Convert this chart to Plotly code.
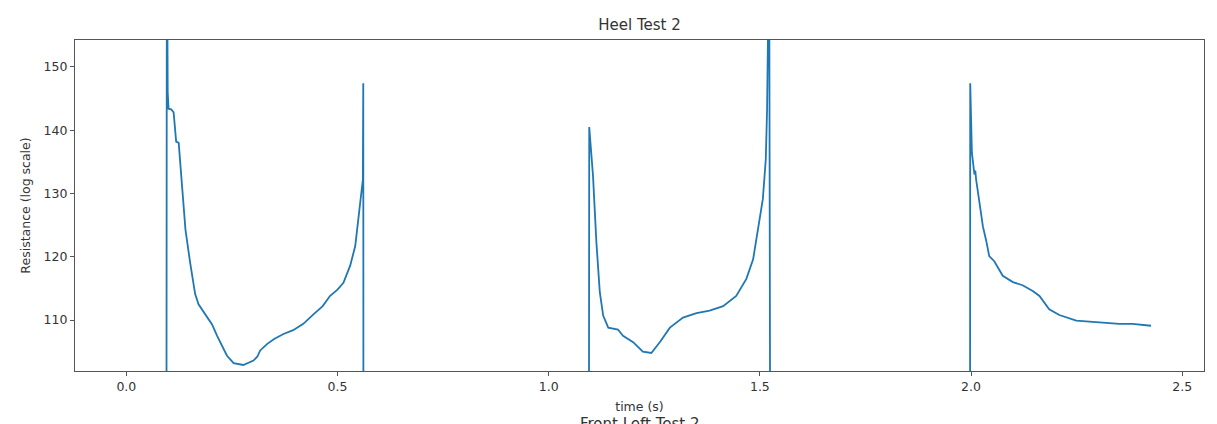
import plotly.graph_objects as go

# time (s) and resistance values
time_s = [
    0.000, 0.094, 0.096, 0.098, 0.100, 0.106, 0.112, 0.118, 0.124,
    0.132, 0.140, 0.151, 0.163, 0.171, 0.180, 0.191, 0.203, 0.215,
    0.238, 0.254, 0.277, 0.301, 0.310, 0.317, 0.333, 0.350, 0.372,
    0.395, 0.419, 0.443, 0.465, 0.482, 0.500, 0.514, 0.530, 0.542,
    0.553, 0.560, 0.561, 0.562,
    1.094, 1.096, 1.105, 1.113, 1.121, 1.129, 1.141, 1.164, 1.176,
    1.200, 1.223, 1.243, 1.263, 1.287, 1.318, 1.350, 1.381, 1.413,
    1.444, 1.468, 1.484, 1.496, 1.507, 1.514, 1.517, 1.522, 1.527,
    1.997, 1.998, 2.002, 2.006, 2.008, 2.010, 2.012, 2.020, 2.028,
    2.036, 2.043, 2.055, 2.075, 2.099, 2.122, 2.146, 2.162, 2.185,
    2.209, 2.249, 2.304, 2.351, 2.382, 2.426,
]
resistance = [
    0.0, 0.0, 175.0, 146.0, 143.4, 143.3, 142.8, 138.2, 138.0,
    131.2, 124.3, 119.1, 114.1, 112.5, 111.6, 110.7, 109.3, 107.5,
    104.4, 103.2, 102.9, 103.6, 104.2, 105.2, 106.2, 107.0, 107.8,
    108.4, 109.4, 110.9, 112.2, 113.8, 114.8, 115.9, 118.6, 121.7,
    128.0, 132.2, 147.4, 0.0,
    0.0, 140.5, 132.7, 122.2, 114.4, 110.7, 108.8, 108.5, 107.5,
    106.5, 105.0, 104.8, 106.5, 108.8, 110.4, 111.1, 111.5, 112.2,
    113.8, 116.5, 119.6, 124.8, 129.1, 135.4, 143.2, 170.0, 0.0,
    0.0, 147.4, 136.4, 134.5, 133.0, 133.6, 132.2, 128.5, 124.8,
    122.5, 120.1, 119.3, 117.0, 116.0, 115.5, 114.6, 113.8, 111.7,
    110.8, 109.9, 109.6, 109.4, 109.4, 109.1,
]

x_ticks = [0.0, 0.5, 1.0, 1.5, 2.0, 2.5]
x_tick_labels = ["0.0", "0.5", "1.0", "1.5", "2.0", "2.5"]
y_ticks = [110, 120, 130, 140, 150]

title_text = "Heel Test 2"
next_title_text = "Front Left Test 2"

FONT = "DejaVu Sans"
TXT = "#333333"
SPINE = "#555555"

fig = go.Figure()
fig.add_trace(go.Scatter(
    x=time_s, y=resistance, mode="lines",
    line=dict(color="#1f77b4", width=1.8),
    showlegend=False, hoverinfo="x+y",
))

fig.update_layout(
    width=1217, height=424,
    margin=dict(l=75, r=13, t=40, b=51),
    paper_bgcolor="white", plot_bgcolor="white",
    font=dict(family=FONT, size=12.5, color=TXT),
    title=dict(text=title_text, x=0.5, xref="paper", xanchor="center",
               y=1, yref="container", yanchor="top", pad=dict(t=19),
               font=dict(family=FONT, size=15, color=TXT)),
    xaxis=dict(
        range=[-0.1215, 2.5515],
        tickmode="array", tickvals=x_ticks, ticktext=x_tick_labels,
        showgrid=False, zeroline=False,
        showline=True, linecolor=SPINE, linewidth=1.3, mirror=True,
        ticks="outside", ticklen=4, tickcolor=SPINE, tickwidth=1,
        tickfont=dict(family=FONT, size=12.5, color=TXT),
        title=dict(text="time (s)", standoff=9,
                   font=dict(family=FONT, size=12.5, color=TXT)),
    ),
    yaxis=dict(
        range=[101.95, 154.25],
        tickmode="array", tickvals=y_ticks,
        showgrid=False, zeroline=False,
        showline=True, linecolor=SPINE, linewidth=1.3, mirror=True,
        ticks="outside", ticklen=4, tickcolor=SPINE, tickwidth=1,
        tickfont=dict(family=FONT, size=12.5, color=TXT),
        title=dict(text="Resistance (log scale)", standoff=10,
                   font=dict(family=FONT, size=12.5, color=TXT)),
    ),
)

fig.add_annotation(
    text=next_title_text, xref="paper", yref="paper",
    x=0.5, y=-0.128, xanchor="center", yanchor="top",
    showarrow=False, font=dict(family=FONT, size=15, color=TXT),
)

fig.write_html(
    "out.html",
    config={"displayModeBar": False},
    post_script="document.body.style.margin='0';document.body.style.overflow='hidden';",
)
